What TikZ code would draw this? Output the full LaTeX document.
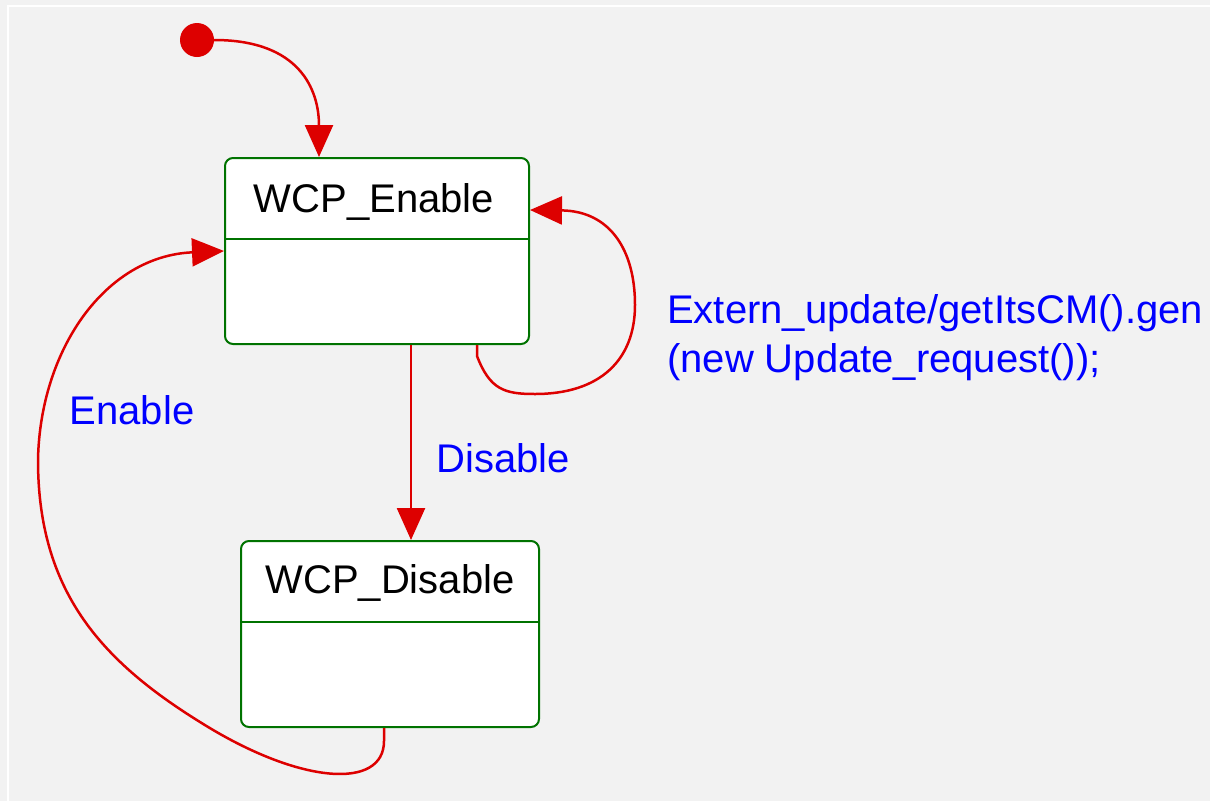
\documentclass[tikz,border=0pt]{standalone}
\usepackage{fontspec}
\setmainfont{Liberation Sans}
\usetikzlibrary{arrows.meta, positioning, calc}

\definecolor{bggray}{RGB}{242,242,242}
\definecolor{trred}{RGB}{221,0,0}
\definecolor{stgreen}{RGB}{0,115,0}
\definecolor{lblblue}{RGB}{0,0,255}

\begin{document}
\begin{tikzpicture}[
x=1pt, y=-1pt,
state/.style={draw=stgreen, line width=2pt, rounded corners=8pt, fill=white, minimum width=304pt, minimum height=186pt},
title/.style={font=\fontsize{40}{49}\selectfont, text height=29pt, text depth=0pt, inner sep=0pt},
lbl/.style={font=\fontsize{40}{49}\selectfont, text=lblblue, align=left, inner sep=0pt},
arrow/.style={-{Triangle[length=32pt, width=28pt]}, draw=trred, line width=2.5pt}
]

\fill[bggray] (0,0) rectangle (1210,801);
\useasboundingbox (0,0) rectangle (1210,801);
\draw[white, line width=2pt] (8,801) -- (8,6) -- (1210,6);

\node[circle, fill=trred, minimum size=34pt, inner sep=0pt] (init) at (197,40) {};
\node[state] (en) at (377,251) {};
\node[state, minimum width=298pt, below=195pt of en, xshift=13pt] (dis) {};

% compartments
\draw[stgreen, line width=2pt] ([yshift=-82pt]en.north west) -- ([yshift=-82pt]en.north east);
\draw[stgreen, line width=2pt] ([yshift=-82pt]dis.north west) -- ([yshift=-82pt]dis.north east);
\node[title] (ent) at ([xshift=-3pt, yshift=-41pt]en.north) {WCP\_Enable};
\node[title] (dist) at ([yshift=-39pt]dis.north) {WCP\_Disable};

% transitions
\draw[arrow] (init.east) .. controls (300,40) and (319,90) .. ([xshift=-58pt]en.north);
\draw[arrow] ([xshift=34pt]en.south) -- ([xshift=21pt]dis.north);
\draw[arrow] ([xshift=100pt]en.south) -- ++(0,11) .. controls (490,390) and (505,394) .. (535,394)
  .. controls (600,394) and (635,360) .. (635,305) .. controls (635,250) and (610,211) .. ([yshift=41pt]en.east);
\draw[arrow] ([xshift=-6pt]dis.south) -- ++(0,13) .. controls (384,790) and (300,785) .. (200,722)
  .. controls (100,660) and (38,590) .. (38,460) .. controls (40,350) and (105,256) .. (en.west);

\node[lbl, anchor=base] (disl) at (503,472) {Disable};
\node[lbl, anchor=base] (enl) at (132,424) {Enable};
\node[lbl, anchor=north west] (extl) at (667,294) {Extern\_update/getItsCM().gen\\(new Update\_request());};

\end{tikzpicture}
\end{document}
